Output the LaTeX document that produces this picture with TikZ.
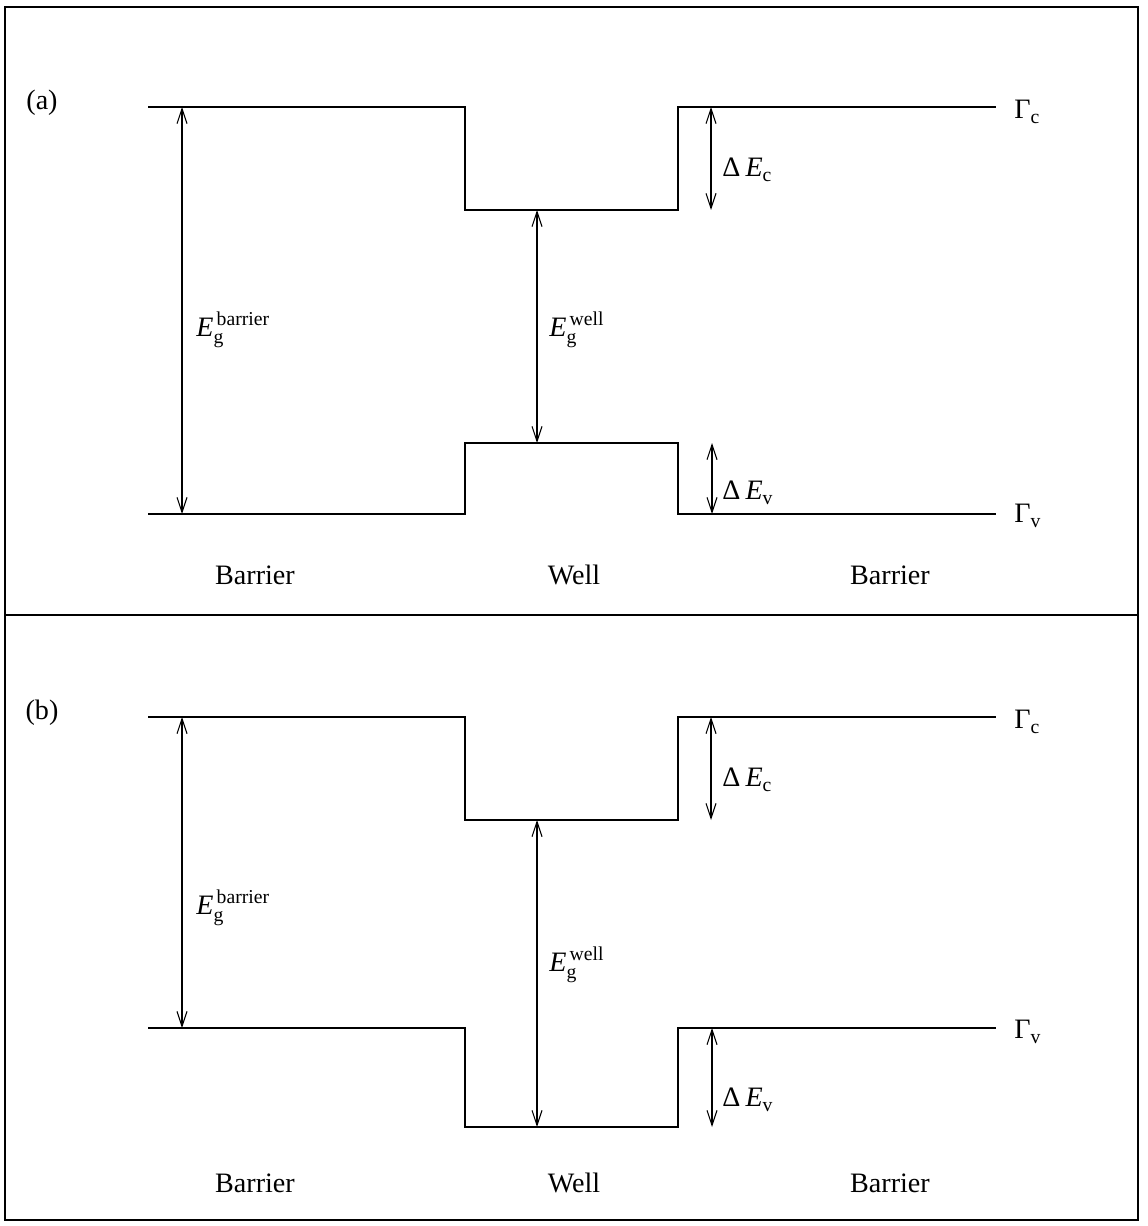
\documentclass[tikz,border=0pt]{standalone}
\usepackage{amsmath}
\usepackage{fontspec}
\setmainfont{Liberation Serif}
\usepackage{tikz}
\usetikzlibrary{arrows.meta,positioning}

\begin{document}
\begin{tikzpicture}[
        x=0.02cm, y=-0.02cm,
        level/.style={line width=1.3pt},
        gap/.style={{Straight Barb[length=3mm,width=2mm]}-{Straight Barb[length=3mm,width=2mm]}, line width=0.6pt},
        frame/.style={line width=0.9pt},
        lbl/.style={font=\fontsize{16}{19}\selectfont, inner sep=0pt},
        tag/.style={lbl, anchor=west}
    ]
        \useasboundingbox (0,0) rectangle (1147,1226);

        % Frame
        \draw[frame] (5,7) rectangle (1138,1220);
        \draw[frame] (5,615) -- (1138,615);

        % (a) band edges
        \draw[level] (148,107) -- (465,107) -- (465,210) -- (678,210) -- (678,107) -- (996,107);
        \draw[level] (148,514) -- (465,514) -- (465,443) -- (678,443) -- (678,514) -- (996,514);

        \coordinate (a-cb) at (182,107);
        \coordinate (a-vb) at (182,514);
        \coordinate (a-cw) at (537,210);
        \coordinate (a-vw) at (537,443);
        \coordinate (a-c1) at (711,107);
        \coordinate (a-c2) at (711,210);
        \coordinate (a-v1) at (712,443);
        \coordinate (a-v2) at (712,514);

        \draw[gap] (a-cb) -- (a-vb);
        \draw[gap] (a-cw) -- (a-vw);
        \draw[gap] (a-c1) -- (a-c2);
        \draw[gap] (a-v1) -- (a-v2);

        % (a) labels
        \node[lbl] (pa) at (42,103) {(a)};
        \node[tag] (gca) at (1014,112) {$\text{Γ}_{\text{c}}$};
        \node[tag] (gva) at (1014,516) {$\text{Γ}_{\text{v}}$};
        \node[tag] (dca) at (722,170) {$\text{Δ}\,\textit{E}_{\text{c}}$};
        \node[tag] (dva) at (722,493) {$\text{Δ}\,\textit{E}_{\text{v}}$};
        \node[tag] (eba) at (196,330) {$\textit{E}_{\text{g}}^{\,\text{barrier}}$};
        \node[tag] (ewa) at (549,330) {$\textit{E}_{\text{g}}^{\,\text{well}}$};
        \node[lbl] (bla) at (255,575) {Barrier};
        \node[lbl] (wa) at (574,575) {Well};
        \node[lbl] (bra) at (890,575) {Barrier};

        % (b) band edges
        \draw[level] (148,717) -- (465,717) -- (465,820) -- (678,820) -- (678,717) -- (996,717);
        \draw[level] (148,1028) -- (465,1028) -- (465,1127) -- (678,1127) -- (678,1028) -- (996,1028);

        \coordinate (b-cb) at (182,717);
        \coordinate (b-vb) at (182,1028);
        \coordinate (b-cw) at (537,820);
        \coordinate (b-vw) at (537,1127);
        \coordinate (b-c1) at (711,717);
        \coordinate (b-c2) at (711,820);
        \coordinate (b-v1) at (712,1028);
        \coordinate (b-v2) at (712,1127);

        \draw[gap] (b-cb) -- (b-vb);
        \draw[gap] (b-cw) -- (b-vw);
        \draw[gap] (b-c1) -- (b-c2);
        \draw[gap] (b-v1) -- (b-v2);

        % (b) labels
        \node[lbl] (pb) at (42,713) {(b)};
        \node[tag] (gcb) at (1014,722) {$\text{Γ}_{\text{c}}$};
        \node[tag] (gvb) at (1014,1032) {$\text{Γ}_{\text{v}}$};
        \node[tag] (dcb) at (722,780) {$\text{Δ}\,\textit{E}_{\text{c}}$};
        \node[tag] (dvb) at (722,1100) {$\text{Δ}\,\textit{E}_{\text{v}}$};
        \node[tag] (ebb) at (196,908) {$\textit{E}_{\text{g}}^{\,\text{barrier}}$};
        \node[tag] (ewb) at (549,965) {$\textit{E}_{\text{g}}^{\,\text{well}}$};
        \node[lbl] (blb) at (255,1183) {Barrier};
        \node[lbl] (wb) at (574,1183) {Well};
        \node[lbl] (brb) at (890,1183) {Barrier};

    \end{tikzpicture}
\end{document}
